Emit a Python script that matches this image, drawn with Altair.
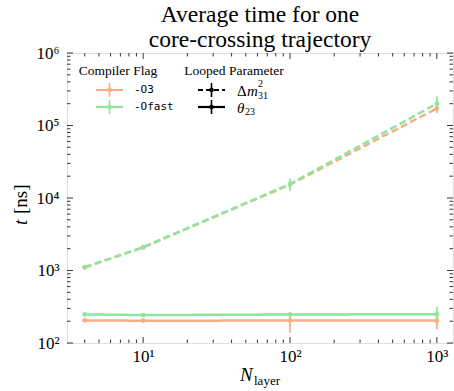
import altair as alt
import pandas as pd

# Measured average runtime (ns) per core-crossing trajectory
n_layer = [4, 10, 100, 1000]
flags = ["-O3", "-Ofast"]
params = ["dm31", "theta23"]

t_o3_dm = [1100, 2080, 15300, 172000]
t_ofast_dm = [1110, 2100, 15600, 200000]
t_o3_th = [205, 203, 204, 204]
t_ofast_th = [248, 243, 247, 250]

err_o3_dm = [40, 70, 1800, 15000]
err_ofast_dm = [40, 80, 3000, 52000]
err_o3_th = [8, 8, 65, 50]
err_ofast_th = [10, 10, 12, 66]

flag_colors = ["#f9ad84", "#8ee59b"]

SERIF = "Liberation Serif"
MONO = "DejaVu Sans Mono"
W, H = 386, 290

rows = []
for flag, param, ts, errs in [
    ("-O3", "dm31", t_o3_dm, err_o3_dm),
    ("-Ofast", "dm31", t_ofast_dm, err_ofast_dm),
    ("-O3", "theta23", t_o3_th, err_o3_th),
    ("-Ofast", "theta23", t_ofast_th, err_ofast_th),
]:
    for n, t, e in zip(n_layer, ts, errs):
        rows.append({"n": n, "t": t, "lo": t - e, "hi": t + e,
                     "flag": flag, "param": param, "series": flag + param})
df = pd.DataFrame(rows)

x_scale = alt.Scale(type="log", domain=[3.03, 1288], nice=False)
y_scale = alt.Scale(type="log", domain=[100, 1e6], nice=False)
sup = "'10' + ['⁰','¹','²','³','⁴','⁵','⁶'][round(log(datum.value)/LN10)]"

x_enc = alt.X("n:Q", scale=x_scale, axis=alt.Axis(
    values=[10, 100, 1000], labelExpr=sup, ticks=False, domain=False,
    grid=False, title=None, labelFont=SERIF, labelFontSize=17,
    labelPadding=5, labelColor="black"))
y_enc = alt.Y("t:Q", scale=y_scale, axis=alt.Axis(
    values=[1e2, 1e3, 1e4, 1e5, 1e6], labelExpr=sup, ticks=False,
    domain=False, grid=False, title=None, labelFont=SERIF,
    labelFontSize=17, labelPadding=8, labelColor="black"))
color_enc = alt.Color("flag:N", scale=alt.Scale(domain=flags, range=flag_colors),
                      legend=None)

base = alt.Chart(df)
lines = base.mark_line(strokeWidth=2.5).encode(
    x=x_enc, y=y_enc, color=color_enc,
    strokeDash=alt.StrokeDash("param:N", scale=alt.Scale(
        domain=params, range=[[7, 3.5], [1, 0]]), legend=None),
    detail="series:N",
    order=alt.Order("n:Q"),
)
bars = base.mark_rule(strokeWidth=1.8).encode(
    x="n:Q", y="lo:Q", y2="hi:Q", color=color_enc)
dots = base.mark_point(filled=True, size=22, opacity=1).encode(
    x="n:Q", y="t:Q", color=color_enc)

# Inward ticks on all four sides of the frame
x_major = [10, 100, 1000]
x_minor = [m * d for d in [1, 10, 100] for m in range(2, 10) if 3.03 < m * d < 1288]
y_major = [1e2, 1e3, 1e4, 1e5, 1e6]
y_minor = [m * d for d in [1e2, 1e3, 1e4, 1e5] for m in range(2, 10)]


def x_ticks(vals, length):
    d = pd.DataFrame({"n": vals})
    c = alt.Chart(d).mark_rule(color="black", strokeWidth=0.8)
    return [c.encode(x="n:Q", y=alt.value(H), y2=alt.value(H - length)),
            c.encode(x="n:Q", y=alt.value(0), y2=alt.value(length))]


def y_ticks(vals, length):
    d = pd.DataFrame({"t": vals})
    c = alt.Chart(d).mark_rule(color="black", strokeWidth=0.8)
    return [c.encode(y="t:Q", x=alt.value(0), x2=alt.value(length)),
            c.encode(y="t:Q", x=alt.value(W), x2=alt.value(W - length))]


ticks = (x_ticks(x_major, 6) + x_ticks(x_minor, 3.5)
         + y_ticks(y_major, 6) + y_ticks(y_minor, 3.5))

one = pd.DataFrame({"k": [0]})


def label(text, x, y, size=13, font=SERIF, style="normal", align="left",
          baseline="middle", angle=0):
    return alt.Chart(one).mark_text(
        font=font, fontSize=size, fontStyle=style, align=align,
        baseline=baseline, angle=angle, color="black").encode(
        x=alt.value(x), y=alt.value(y), text=alt.value(text))


def sample(x0, x1, y, color, dash=None):
    kw = {"strokeDash": dash} if dash else {}
    ln = alt.Chart(one).mark_rule(color=color, strokeWidth=2.2, **kw).encode(
        x=alt.value(x0), x2=alt.value(x1), y=alt.value(y))
    xm = (x0 + x1) / 2
    vb = alt.Chart(one).mark_rule(color=color, strokeWidth=1.6).encode(
        x=alt.value(xm), y=alt.value(y - 7), y2=alt.value(y + 7))
    pt = alt.Chart(one).mark_point(color=color, filled=True, size=22,
                                   opacity=1).encode(
        x=alt.value(xm), y=alt.value(y))
    return [ln, vb, pt]


legend = (
    [label("Compiler Flag", 51, 22, size=13.5, align="center", baseline="alphabetic"),
     label("Looped Parameter", 167, 22, size=13.5, align="center", baseline="alphabetic")]
    + sample(29, 56, 37, flag_colors[0])
    + sample(29, 56, 54, flag_colors[1])
    + [label("-O3", 67, 37, size=11, font=MONO),
       label("-Ofast", 67, 54, size=11, font=MONO)]
    + sample(131, 158, 37, "black", dash=[5, 3])
    + sample(131, 158, 54, "black")
    + [label("Δ", 170, 38, size=15),
       label("m", 180, 38, size=15, style="italic"),
       label("2", 191, 31, size=10),
       label("31", 191, 43, size=10),
       label("θ", 170, 55, size=15, style="italic"),
       label("23", 178, 59, size=10)]
)

axis_titles = [
    label("N", 173, 328, size=19, style="italic", baseline="alphabetic"),
    label("layer", 187, 332, size=13, baseline="alphabetic"),
    label("t", -46, 172, size=19, style="italic", angle=270),
    label("[ns]", -46, 161, size=19, angle=270),
]

chart = alt.layer(lines, bars, dots, *ticks, *legend, *axis_titles).properties(
    width=W, height=H,
    title=alt.TitleParams(["Average time for one", "core-crossing trajectory"],
                          font=SERIF, fontSize=23.5, fontWeight="normal",
                          anchor="middle", color="black", lineHeight=25,
                          offset=-7),
    autosize=alt.AutoSizeParams(type="none"),
    padding={"left": 67, "top": 53, "right": 1, "bottom": 48},
).configure_view(stroke="black", strokeWidth=1.2).configure(background="white")

chart.save("out.html", embed_options={"renderer": "svg", "actions": False})
